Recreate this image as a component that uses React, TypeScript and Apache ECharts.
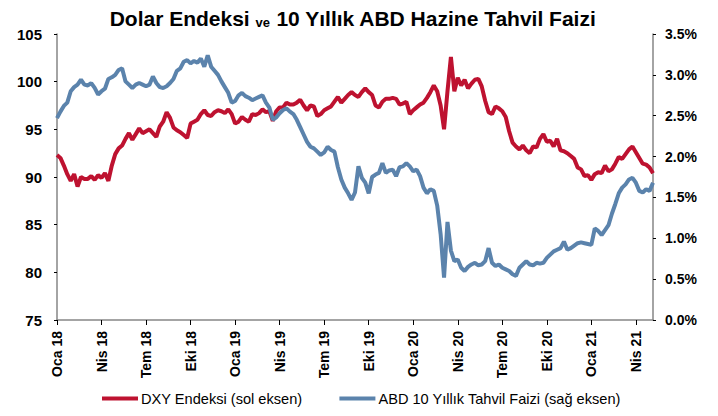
import React, { useEffect, useRef } from "react";
import * as echarts from "echarts";

// Weekly observations starting 2018-01-05
const dxy: number[] = [
  92.3, 92.0, 91.2, 90.3, 89.6, 90.3, 89.0, 90.0, 89.8, 89.8,
  90.1, 89.7, 90.2, 89.9, 90.4, 89.6, 91.2, 92.4, 93.0, 93.3,
  94.0, 94.6, 93.9, 94.5, 95.1, 94.6, 94.8, 95.0, 94.6, 94.2,
  95.3, 95.8, 96.8, 96.2, 95.2, 94.9, 94.7, 94.4, 94.1, 95.6,
  95.8, 96.0, 96.6, 97.0, 96.5, 96.4, 96.8, 97.0, 96.9, 96.7,
  97.1, 96.6, 95.6, 95.8, 96.3, 96.0, 95.8, 96.6, 96.5, 96.7,
  97.1, 96.8, 96.9, 95.9, 96.9, 97.3, 97.3, 97.8, 97.6, 97.6,
  97.8, 98.1, 97.5, 97.0, 97.5, 97.4, 96.4, 96.6, 97.0, 97.2,
  97.4, 97.9, 98.4, 97.8, 98.2, 98.6, 98.9, 98.6, 98.4, 98.9,
  99.3, 98.9, 98.6, 97.5, 97.3, 97.9, 98.2, 98.2, 98.3, 98.2,
  97.6, 97.7, 97.9, 96.6, 97.0, 97.3, 97.6, 97.8, 98.3, 98.9,
  99.6, 99.0, 97.5, 95.0, 99.0, 102.6, 99.0, 100.4, 99.6, 100.2,
  99.3, 99.8, 100.2, 100.3, 99.5, 98.0, 96.8, 96.6, 97.4, 97.2,
  96.9, 96.3, 94.8, 93.6, 93.2, 92.9, 93.3, 92.8, 92.5, 93.2,
  93.1, 94.0, 94.5, 93.7, 93.8, 93.2, 94.0, 92.8, 92.7, 92.5,
  92.2, 91.9, 91.0, 90.8, 90.1, 90.2, 89.7, 90.3, 90.5, 90.4,
  91.2, 90.6, 90.8, 91.4, 92.1, 91.9, 92.4, 92.9, 93.2, 92.6,
  92.0, 91.4, 91.3, 91.0, 90.4,
];

const us10y: number[] = [
  2.47, 2.55, 2.62, 2.66, 2.80, 2.85, 2.88, 2.94, 2.88, 2.87,
  2.90, 2.84, 2.76, 2.80, 2.83, 2.95, 2.97, 3.00, 3.06, 3.08,
  2.92, 2.88, 2.84, 2.88, 2.90, 2.88, 2.86, 2.88, 2.98, 2.90,
  2.85, 2.84, 2.86, 2.90, 2.95, 3.05, 3.08, 3.16, 3.18, 3.14,
  3.17, 3.15, 3.20, 3.10, 3.24, 3.10, 3.05, 3.00, 2.92, 2.85,
  2.78, 2.66, 2.68, 2.75, 2.78, 2.74, 2.72, 2.69, 2.71, 2.73,
  2.75, 2.66, 2.60, 2.45, 2.48, 2.53, 2.57, 2.59, 2.55, 2.52,
  2.45, 2.36, 2.27, 2.18, 2.12, 2.10, 2.06, 2.02, 2.05, 2.12,
  2.08, 2.06, 1.87, 1.72, 1.62, 1.55, 1.47, 1.56, 1.88, 1.74,
  1.68, 1.55, 1.75, 1.78, 1.80, 1.92, 1.80, 1.83, 1.84, 1.76,
  1.87, 1.88, 1.92, 1.88, 1.82, 1.84, 1.76, 1.62, 1.55, 1.60,
  1.58, 1.40, 1.05, 0.52, 1.20, 0.85, 0.72, 0.74, 0.64, 0.60,
  0.65, 0.68, 0.70, 0.67, 0.68, 0.72, 0.88, 0.70, 0.66, 0.68,
  0.64, 0.62, 0.60, 0.56, 0.54, 0.64, 0.68, 0.72, 0.68, 0.67,
  0.70, 0.69, 0.70, 0.76, 0.80, 0.84, 0.86, 0.88, 0.96, 0.86,
  0.88, 0.91, 0.94, 0.95, 0.94, 0.93, 0.92, 1.12, 1.09, 1.04,
  1.10, 1.16, 1.30, 1.42, 1.55, 1.62, 1.66, 1.72, 1.74, 1.68,
  1.58, 1.56, 1.60, 1.58, 1.68,
];

const leftTicks = { min: 75, max: 105, interval: 5 };
const rightTicks = { min: 0, max: 3.5, interval: 0.5 };
const monthNames = ["Oca", "Şub", "Mar", "Nis", "May", "Haz", "Tem", "Ağu", "Eyl", "Eki", "Kas", "Ara"];
const seriesNames = ["DXY Endeksi (sol eksen)", "ABD 10 Yıllık Tahvil Faizi (sağ eksen)"];

const pad = (n: number) => (n < 10 ? "0" + n : "" + n);
const dates: string[] = [];
{
  const start = Date.UTC(2018, 0, 5);
  for (let i = 0; i < dxy.length; i++) {
    const d = new Date(start + i * 7 * 86400000);
    dates.push(d.getUTCFullYear() + "-" + pad(d.getUTCMonth() + 1) + "-" + pad(d.getUTCDate()));
  }
}

const isQuarterStart = (v: string) => {
  const m = parseInt(v.slice(5, 7), 10);
  const d = parseInt(v.slice(8, 10), 10);
  return (m - 1) % 3 === 0 && d <= 7;
};

export default function App() {
  const ref = useRef<HTMLDivElement>(null);
  useEffect(() => {
    document.body.style.margin = "0";
    if (!ref.current) return;
    const chart = echarts.init(ref.current, null, { renderer: "svg" });
    const narrow = "'Liberation Sans Narrow', 'Liberation Sans', Arial, sans-serif";
    const axisColor = "#868686";
    chart.setOption({
      animation: false,
      backgroundColor: "#ffffff",
      title: {
        text: "{a|Dolar Endeksi }{b|ve}{a| 10 Yıllık ABD Hazine Tahvil Faizi}",
        left: 348,
        textAlign: "center",
        top: 3,
        textStyle: {
          rich: {
            a: { fontFamily: narrow, fontWeight: "bold", fontSize: 21, color: "#000" },
            b: { fontFamily: narrow, fontWeight: "bold", fontSize: 13, color: "#000", verticalAlign: "bottom" },
          },
        },
      },
      legend: {
        bottom: 5,
        left: 97,
        itemGap: 37,
        itemWidth: 36,
        itemHeight: 4,
        icon: "rect",
        textStyle: { fontFamily: narrow, fontSize: 14.6, color: "#000", padding: [0, 0, 0, -2] },
        data: seriesNames,
      },
      grid: { left: 57, right: 65, top: 34, bottom: 96, containLabel: false },
      xAxis: {
        type: "category",
        data: dates,
        boundaryGap: false,
        axisLine: { lineStyle: { color: axisColor, width: 1.5 } },
        axisTick: { show: true, length: 5, interval: (_i: number, v: string) => isQuarterStart(v), lineStyle: { color: "#000" } },
        axisLabel: {
          interval: (_i: number, v: string) => isQuarterStart(v),
          rotate: 90,
          fontFamily: "'Liberation Sans', Arial, sans-serif",
          fontWeight: "bold",
          fontSize: 14,
          color: "#000",
          margin: 11,
          formatter: (v: string) => monthNames[parseInt(v.slice(5, 7), 10) - 1] + " " + v.slice(2, 4),
        },
        splitLine: { show: false },
      },
      yAxis: [
        {
          type: "value",
          min: leftTicks.min,
          max: leftTicks.max,
          interval: leftTicks.interval,
          axisLine: { show: true, lineStyle: { color: axisColor, width: 1.5 } },
          axisTick: { show: true, length: 3, lineStyle: { color: "#000" } },
          axisLabel: { fontFamily: narrow, fontWeight: "bold", fontSize: 15, color: "#000", margin: 15 },
          splitLine: { show: false },
        },
        {
          type: "value",
          min: rightTicks.min,
          max: rightTicks.max,
          interval: rightTicks.interval,
          position: "right",
          axisLine: { show: true, lineStyle: { color: axisColor, width: 1.5 } },
          axisTick: { show: true, length: 3, lineStyle: { color: "#000" } },
          axisLabel: {
            fontFamily: narrow,
            fontWeight: "bold",
            fontSize: 14,
            color: "#000",
            margin: 12,
            formatter: (v: number) => v.toFixed(1) + "%",
          },
          splitLine: { show: false },
        },
      ],
      series: [
        {
          name: seriesNames[0],
          type: "line",
          data: dxy,
          yAxisIndex: 0,
          symbol: "none",
          lineStyle: { color: "#BE1230", width: 4 },
          itemStyle: { color: "#BE1230" },
        },
        {
          name: seriesNames[1],
          type: "line",
          data: us10y,
          yAxisIndex: 1,
          symbol: "none",
          lineStyle: { color: "#5B83AC", width: 4 },
          itemStyle: { color: "#5B83AC" },
        },
      ],
    });
    return () => chart.dispose();
  }, []);
  return <div ref={ref} style={{ width: 718, height: 416 }} />;
}
